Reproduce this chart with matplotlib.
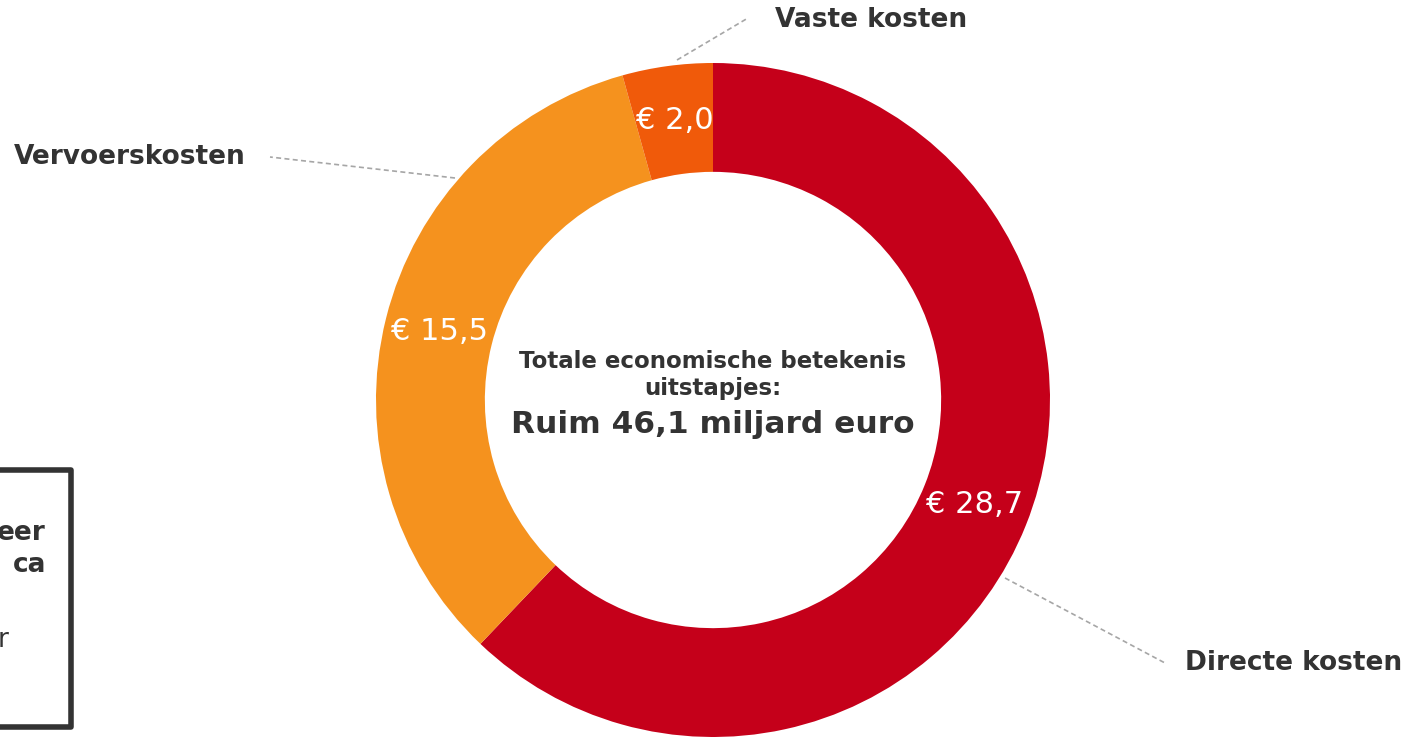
import matplotlib.pyplot as plt
import numpy as np

# data
categories = ['Directe kosten', 'Vervoerskosten', 'Vaste kosten']
values = [28.7, 15.5, 2.0]
value_labels = ['€ 28,7', '€ 15,5', '€ 2,0']
colors = ['#C5001A', '#F5921E', '#F05A0A']

W, H = 1414, 737
fig = plt.figure(figsize=(W / 100, H / 100), dpi=100)

# donut axes: center (713, 400) px, outer radius 337 px
cx, cy, R = 713, 400, 337
ax = fig.add_axes([(cx - R) / W, (H - cy - R) / H, 2 * R / W, 2 * R / H])
wedges, _ = ax.pie(values, colors=colors, startangle=90, counterclock=False,
                   radius=1.0, wedgeprops=dict(width=0.323, edgecolor='none'))
ax.set_xlim(-1, 1)
ax.set_ylim(-1, 1)
ax.set_aspect('equal')
ax.axis('off')

# value labels in the ring
for w, lab in zip(wedges, value_labels):
    ang = np.deg2rad((w.theta1 + w.theta2) / 2)
    r = 0.837
    ax.text(r * np.cos(ang), r * np.sin(ang), lab, ha='center', va='center',
            color='white', fontsize=22)

# centre text
ax.text(0, 0.113, 'Totale economische betekenis', ha='center', va='center',
        fontsize=16.5, fontweight='bold', color='#333333')
ax.text(0, 0.034, 'uitstapjes:', ha='center', va='center',
        fontsize=16.5, fontweight='bold', color='#333333')
ax.text(0, -0.072, 'Ruim 46,1 miljard euro', ha='center', va='center',
        fontsize=22.5, fontweight='bold', color='#333333')

# overlay in pixel coords for leaders, labels and the box
ov = fig.add_axes([0, 0, 1, 1], zorder=5)
ov.set_xlim(0, W)
ov.set_ylim(H, 0)
ov.axis('off')
ov.patch.set_alpha(0)

leaders = [((1005, 578), (1165, 663)), ((455, 178), (270, 157)), ((677, 60), (748, 18))]
label_pos = [(1185, 663, 'left'), (246, 157, 'right'), (775, 20, 'left')]
for (p0, p1), (tx, ty, ha), name in zip(leaders, label_pos, categories):
    ov.plot([p0[0], p1[0]], [p0[1], p1[1]], ls='--', color='#A6A6A6', lw=1.2, dashes=(3, 2))
    ov.text(tx, ty, name, ha=ha, va='center', fontsize=19, fontweight='bold', color='#333333')

# partially visible text box at the left edge
ov.plot([-10, 71, 71, -10], [470, 470, 727, 727], color='#333333', lw=4, solid_joinstyle='round')
ov.text(46, 533, 'eer', ha='right', va='center', fontsize=19, fontweight='bold', color='#333333')
ov.text(46, 565, 'ca', ha='right', va='center', fontsize=19, fontweight='bold', color='#333333')
ov.text(9, 640, 'r', ha='right', va='center', fontsize=19, color='#333333')

fig.savefig('out.png', dpi=100)
